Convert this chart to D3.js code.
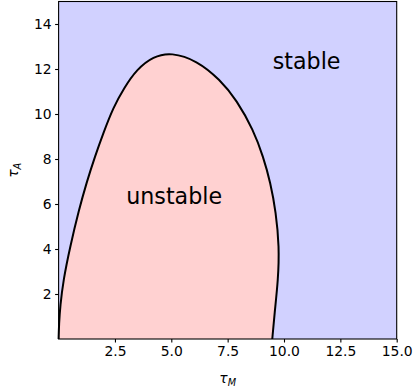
<!DOCTYPE html>
<html>
<head>
<meta charset="utf-8">
<script src="https://cdn.jsdelivr.net/npm/d3@7"></script>
<style>
  html, body { margin: 0; padding: 0; background: #fff; }
  svg { display: block; font-family: "DejaVu Sans", sans-serif; }
</style>
</head>
<body>
<svg id="chart" width="414" height="390"></svg>
<script>
// Boundary curve (tau_M, tau_A)
const boundaryTauM = [0.0, 0.0, 0.02, 0.07, 0.21, 0.51, 0.9, 1.24, 1.61, 1.98, 2.43, 2.9, 3.46, 4.2, 5.0, 6.13, 7.16, 7.9, 8.64, 9.08, 9.4, 9.64, 9.79, 9.74, 9.58, 9.48, 9.48];
const boundaryTauA = [0.0, 0.0, 0.7, 1.44, 2.62, 4.1, 5.73, 6.95, 8.1, 9.14, 10.3, 11.15, 11.98, 12.56, 12.74, 12.38, 11.53, 10.62, 9.29, 8.1, 6.95, 5.65, 4.1, 2.62, 1.14, 0.0, 0.0];
const xTicks = [2.5, 5.0, 7.5, 10.0, 12.5, 15.0];
const yTicks = [2, 4, 6, 8, 10, 12, 14];
const regionLabels = ["stable", "unstable"];
const regionLabelX = [9.5, 3];
const regionLabelY = [12, 6];

const svg = d3.select("#chart");
const L = 58.6, R = 396.7, T = 1.5, B = 339;
const x = d3.scaleLinear().domain([0, 15]).range([L, R]);
const y = d3.scaleLinear().domain([0, 15]).range([B, T]);

// stable background
svg.append("rect").attr("x", L).attr("y", T).attr("width", R - L).attr("height", B - T)
  .attr("fill", "#d1d1ff");

const pts = boundaryTauM.map((m, i) => [m, boundaryTauA[i]]);
const line = d3.line().x(d => x(d[0])).y(d => y(d[1])).curve(d3.curveBasis);

// unstable region
svg.append("path").attr("d", line(pts) + "Z").attr("fill", "#ffd1d1");
// boundary line
svg.append("path").attr("d", line(pts)).attr("fill", "none").attr("stroke", "#000").attr("stroke-width", 2);

// axes
const xAxis = d3.axisBottom(x).tickValues(xTicks).tickFormat(d3.format(".1f")).tickSizeOuter(0).tickSize(3.5).tickPadding(3.5);
const yAxis = d3.axisLeft(y).tickValues(yTicks).tickFormat(d3.format("d")).tickSizeOuter(0).tickSize(3.5).tickPadding(3.5);
const gx = svg.append("g").attr("transform", `translate(0,${B})`).call(xAxis);
const gy = svg.append("g").attr("transform", `translate(${L},0)`).call(yAxis);
[gx, gy].forEach(g => {
  g.select(".domain").remove();
  g.selectAll("text").attr("font-size", 13.9).attr("font-family", "DejaVu Sans").attr("fill", "#000");
  g.selectAll("line").attr("stroke", "#000").attr("stroke-width", 1.1);
});

// frame
svg.append("rect").attr("x", L).attr("y", T).attr("width", R - L).attr("height", B - T)
  .attr("fill", "none").attr("stroke", "#000").attr("stroke-width", 1.1);

// region labels
svg.selectAll("text.region").data(regionLabels).enter().append("text")
  .attr("class", "region")
  .attr("x", (d, i) => x(regionLabelX[i]))
  .attr("y", (d, i) => y(regionLabelY[i]))
  .attr("font-size", 22.2).attr("fill", "#000")
  .text(d => d);

// axis labels
const xl = svg.append("text").attr("x", (L + R) / 2).attr("y", 383).attr("text-anchor", "middle")
  .attr("font-size", 13.9).attr("font-style", "italic");
xl.append("tspan").text("τ");
xl.append("tspan").attr("font-size", 9.7).attr("dy", 2.5).text("M");

const yl = svg.append("text").attr("transform", `translate(18,${(T + B) / 2}) rotate(-90)`).attr("text-anchor", "middle")
  .attr("font-size", 13.9).attr("font-style", "italic");
yl.append("tspan").text("τ");
yl.append("tspan").attr("font-size", 9.7).attr("dy", 2.5).text("A");
</script>
</body>
</html>
